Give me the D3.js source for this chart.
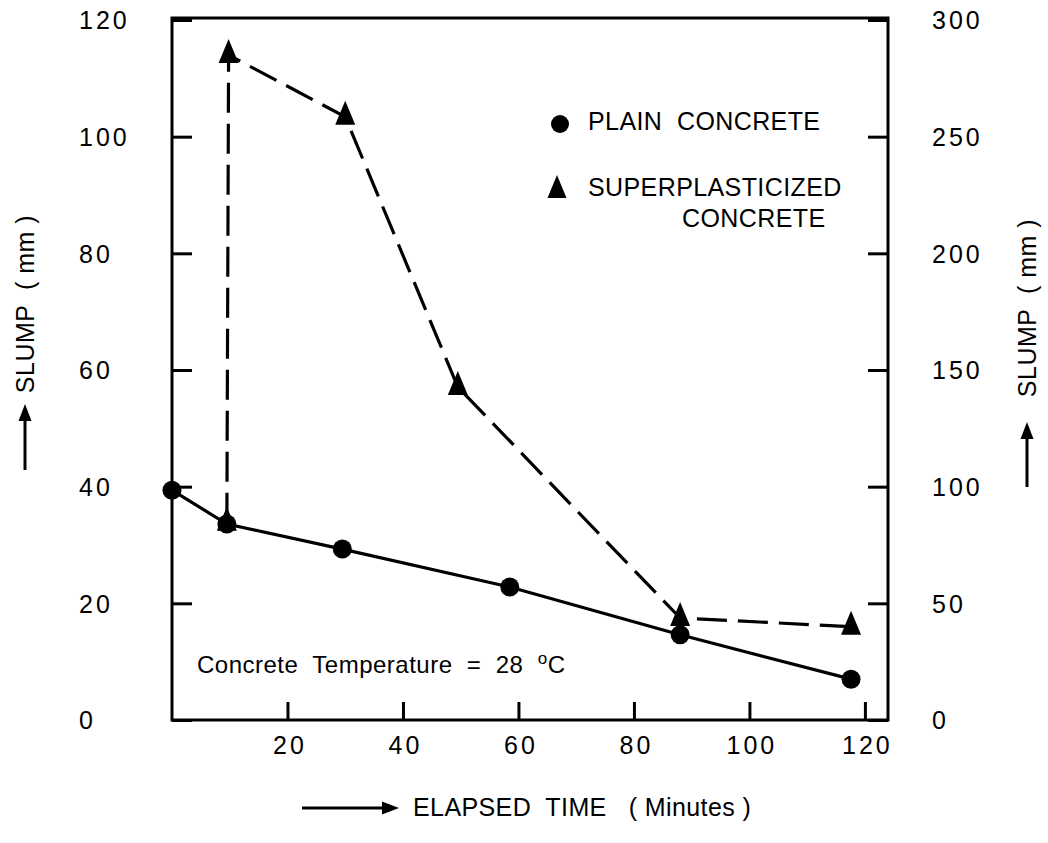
<!DOCTYPE html>
<html>
<head>
<meta charset="utf-8">
<script src="https://cdn.jsdelivr.net/npm/d3@7"></script>
<style>
  body { margin: 0; background: #fff; }
  text { font-family: "Liberation Sans", Arial, Helvetica, sans-serif; fill: #000; white-space: pre; }
</style>
</head>
<body>
<div id="chart"></div>
<script>
////////////////////////////////// DATA //////////////////////////////////
var plainTime = [0, 9.5, 29.5, 58.5, 88, 117.6];
var plainSlump = [39.4, 33.6, 29.3, 22.8, 14.6, 7.0];      // left axis (mm)
var superTime = [9.5, 9.8, 30, 49.5, 88, 117.6];
var superSlump = [84.5, 285, 258.5, 142.7, 43.7, 40];     // right axis (mm)
var xTicks = [20, 40, 60, 80, 100, 120];
var leftTicks = [0, 20, 40, 60, 80, 100, 120];
var rightTicks = [0, 50, 100, 150, 200, 250, 300];

////////////////////////////////// D3 //////////////////////////////////
function drawChart() {

  // Settings
  var width = 1048;
  var height = 843;
  var left = 172, right = 888, top = 18, bottom = 720;
  var tickLen = 20;

  var svg = d3.select('#chart')
    .append('svg')
    .attr('width', width)
    .attr('height', height);

  var x = d3.scaleLinear().domain([0, 124]).range([left, right]);
  var yL = d3.scaleLinear().domain([0, 120]).range([bottom, top + 2]);
  var yR = d3.scaleLinear().domain([0, 300]).range([bottom, top + 2]);

  // frame
  svg.append('rect')
    .attr('x', left).attr('y', top)
    .attr('width', right - left).attr('height', bottom - top)
    .attr('fill', 'none').attr('stroke', '#000').attr('stroke-width', 3);

  // axes (ticks point inward)
  var gL = svg.append('g')
    .attr('transform', 'translate(' + left + ',0)')
    .call(d3.axisLeft(yL).tickValues(leftTicks).tickSizeInner(-tickLen).tickSizeOuter(0));
  gL.selectAll('text').attr('x', -93).attr('text-anchor', 'start').attr('dy', '0.35em');

  var gR = svg.append('g')
    .attr('transform', 'translate(' + right + ',0)')
    .call(d3.axisRight(yR).tickValues(rightTicks).tickSizeInner(-tickLen).tickSizeOuter(0));
  gR.selectAll('text').attr('x', 44).attr('text-anchor', 'start').attr('dy', '0.35em');

  var gB = svg.append('g')
    .attr('transform', 'translate(0,' + bottom + ')')
    .call(d3.axisBottom(x).tickValues(xTicks).tickSizeInner(-18).tickSizeOuter(0));
  gB.selectAll('text').attr('y', 34).attr('dy', 0).attr('dx', 2);

  svg.selectAll('.domain').remove();
  svg.selectAll('.tick line').attr('stroke', '#000').attr('stroke-width', 3);
  svg.selectAll('.tick text')
    .attr('font-size', 25)
    .attr('letter-spacing', 3)
    .attr('font-family', '"Liberation Sans", Arial, sans-serif')
    .attr('fill', '#000');

  // lines
  var linePlain = d3.line()
    .x(function(d) { return x(d[0]); })
    .y(function(d) { return yL(d[1]); });
  var lineSuper = d3.line()
    .x(function(d) { return x(d[0]); })
    .y(function(d) { return yR(d[1]); });

  var plain = plainTime.map(function(t, i) { return [t, plainSlump[i]]; });
  var sup = superTime.map(function(t, i) { return [t, superSlump[i]]; });

  svg.append('path')
    .datum(sup)
    .attr('d', lineSuper)
    .attr('fill', 'none').attr('stroke', '#000')
    .attr('stroke-width', 3.2)
    .attr('stroke-dasharray', '30,11');

  svg.append('path')
    .datum(plain)
    .attr('d', linePlain)
    .attr('fill', 'none').attr('stroke', '#000')
    .attr('stroke-width', 3.2);

  var tri = 'M0,-16L10,8L-10,8Z';

  svg.selectAll('.plainPt')
    .data(plain)
    .enter()
    .append('circle')
    .attr('class', 'plainPt')
    .attr('cx', function(d) { return x(d[0]); })
    .attr('cy', function(d) { return yL(d[1]); })
    .attr('r', 9.5);

  svg.selectAll('.superPt')
    .data(sup)
    .enter()
    .append('path')
    .attr('class', 'superPt')
    .attr('d', tri)
    .attr('transform', function(d) {
      return 'translate(' + x(d[0]) + ',' + yR(d[1]) + ')';
    });

  // legend
  svg.append('circle').attr('cx', 560).attr('cy', 124).attr('r', 9);
  svg.append('text').attr('x', 588).attr('y', 130).attr('font-size', 25)
    .attr('letter-spacing', 0.4)
    .text('PLAIN  CONCRETE');
  svg.append('path').attr('d', 'M0,-15L9.5,8L-9.5,8Z').attr('transform', 'translate(557,190)');
  svg.append('text').attr('x', 588).attr('y', 196).attr('font-size', 25)
    .attr('letter-spacing', 0.4)
    .text('SUPERPLASTICIZED');
  svg.append('text').attr('x', 682).attr('y', 227).attr('font-size', 25)
    .attr('letter-spacing', 0.4)
    .text('CONCRETE');

  // temperature note
  var note = svg.append('text').attr('x', 197).attr('y', 673).attr('font-size', 24)
    .attr('letter-spacing', 0.5);
  note.append('tspan').text('Concrete  Temperature  =  28  ');
  note.append('tspan').attr('font-size', 17).attr('dy', -9).text('o');
  note.append('tspan').attr('dy', 9).text('C');

  // arrows
  function arrow(x1, y1, x2, y2) {
    var a = Math.atan2(y2 - y1, x2 - x1);
    var len = 17, w = 6.5;
    var bx = x2 - len * Math.cos(a), by = y2 - len * Math.sin(a);
    svg.append('line')
      .attr('x1', x1).attr('y1', y1).attr('x2', bx).attr('y2', by)
      .attr('stroke', '#000').attr('stroke-width', 3);
    svg.append('path')
      .attr('d', 'M' + x2 + ',' + y2 +
        'L' + (bx + w * Math.sin(a)) + ',' + (by - w * Math.cos(a)) +
        'L' + (bx - w * Math.sin(a)) + ',' + (by + w * Math.cos(a)) + 'Z');
  }

  // axis titles
  arrow(302, 808, 399, 808);
  svg.append('text').attr('x', 413).attr('y', 816).attr('font-size', 25)
    .attr('letter-spacing', 0.4)
    .text('ELAPSED  TIME   ( Minutes )');

  arrow(25, 470, 25, 404);
  svg.append('text')
    .attr('transform', 'translate(34,304) rotate(-90)')
    .attr('text-anchor', 'middle').attr('font-size', 25)
    .attr('letter-spacing', 0.5)
    .text('SLUMP  ( mm )');

  arrow(1027, 487, 1027, 422);
  svg.append('text')
    .attr('transform', 'translate(1036,308) rotate(-90)')
    .attr('text-anchor', 'middle').attr('font-size', 25)
    .attr('letter-spacing', 0.5)
    .text('SLUMP  ( mm )');
}

drawChart();
////////////////////////////////// D3 - END //////////////////////////////////
</script>
</body>
</html>
